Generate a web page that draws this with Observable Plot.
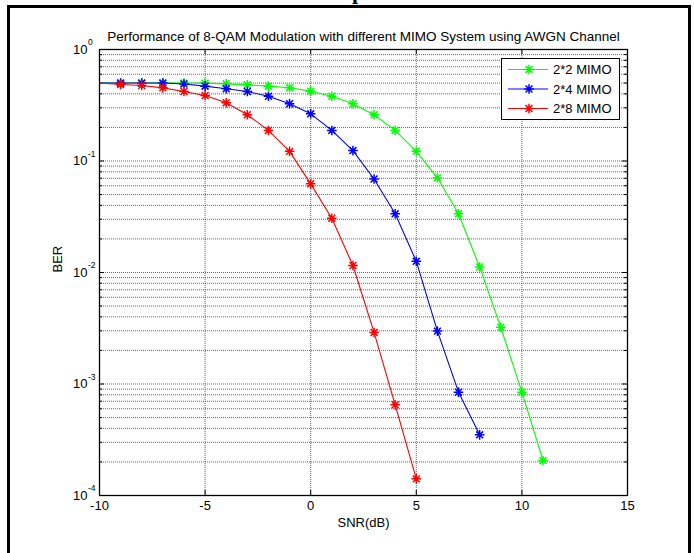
<!DOCTYPE html>
<html><head><meta charset="utf-8">
<script src="https://cdn.jsdelivr.net/npm/d3@7"></script>
<script src="https://cdn.jsdelivr.net/npm/@observablehq/plot@0.6"></script>
<style>
body{margin:0;background:#fff;}
#wrap{position:relative;width:694px;height:553px;overflow:hidden;background:#fff;font-family:"Liberation Sans",Arial,sans-serif;}
#border{position:absolute;left:7px;top:5px;width:678px;height:600px;border:3px solid #000;}
#frag{position:absolute;left:0;top:0;}
#chart{position:absolute;left:0;top:0;}
#legend{position:absolute;left:501px;top:58px;}
</style></head>
<body>
<div id="wrap">
  <div id="border"></div>
  <svg id="frag" width="694" height="8"><text x="358" y="-1" font-weight="bold" font-family="Liberation Serif" font-size="22" text-anchor="middle">p</text></svg>
  <div id="chart"></div>
  <div id="legend"></div>
</div>
<script>
// ---- data ----
const titleText = "Performance of 8-QAM Modulation with different MIMO System using AWGN Channel";
const xLabel = "SNR(dB)";
const yLabel = "BER";
const seriesNames = ["2*2 MIMO", "2*4 MIMO", "2*8 MIMO"];
const seriesColors = ["#00ff00", "#0000ff", "#ff0000"];
const snr22 = [-10,-9,-8,-7,-6,-5,-4,-3,-2,-1,0,1,2,3,4,5,6,7,8,9,10,11];
const ber22 = [0.5,0.5,0.5,0.5,0.5,0.499,0.492,0.482,0.469,0.454,0.423,0.381,0.326,0.26,0.188,0.122,0.0707,0.0336,0.0112,0.00323,0.000845,0.000206];
const snr24 = [-10,-9,-8,-7,-6,-5,-4,-3,-2,-1,0,1,2,3,4,5,6,7,8];
const ber24 = [0.5,0.5,0.5,0.5,0.49,0.469,0.444,0.42,0.381,0.326,0.265,0.188,0.124,0.069,0.0336,0.0126,0.00298,0.000845,0.00035];
const snr28 = [-10,-9,-8,-7,-6,-5,-4,-3,-2,-1,0,1,2,3,4,5];
const ber28 = [0.5,0.485,0.475,0.453,0.42,0.387,0.333,0.26,0.188,0.122,0.0624,0.0307,0.01155,0.0029,0.00065,0.000141];
const xTicks = [-10,-5,0,5,10,15];
const yMajor = [1,0.1,0.01,0.001,0.0001];
const yExponents = ["0","-1","-2","-3","-4"];

// ---- layout ----
const W = 694, H = 553;
const mL = 99, mR = 67, mT = 49, mB = 58;
const pW = W - mL - mR, pH = H - mT - mB;

const rows = [];
[[snr22, ber22], [snr24, ber24], [snr28, ber28]].forEach(([xs, ys], i) => {
  xs.forEach((x, j) => rows.push({snr: x, ber: ys[j], series: seriesNames[i]}));
});
const yMinor = [];
for (let e = -4; e < 0; e++) for (let m = 2; m <= 9; m++) yMinor.push(m * Math.pow(10, e));
const yAllGrid = yMajor.slice(1, 4).concat(yMinor);

const asterisk = {
  draw(ctx, size) {
    const r = Math.sqrt(size / Math.PI), d = r * 0.72;
    ctx.moveTo(-r, 0); ctx.lineTo(r, 0);
    ctx.moveTo(0, -r); ctx.lineTo(0, r);
    ctx.moveTo(-d, -d); ctx.lineTo(d, d);
    ctx.moveTo(-d, d); ctx.lineTo(d, -d);
  }
};

const gridStyle = {stroke: "#666", strokeDasharray: "1,1", strokeWidth: 1};
const font = "Liberation Sans, Arial, sans-serif";

const chart = Plot.plot({
  width: W, height: H,
  marginLeft: mL, marginRight: mR, marginTop: mT, marginBottom: mB,
  style: {fontFamily: font, background: "transparent", overflow: "visible"},
  x: {domain: [-10, 15], axis: null},
  y: {type: "log", domain: [1e-4, 1], axis: null},
  color: {domain: seriesNames, range: seriesColors},
  marks: [
    Plot.ruleY(yAllGrid, {y: d => d, ...gridStyle}),
    Plot.ruleX(xTicks.slice(1, -1), {x: d => d, ...gridStyle}),
    // ticks
    Plot.ruleX(xTicks, {x: d => d, insetTop: pH - 5, stroke: "#000"}),
    Plot.ruleX(xTicks, {x: d => d, insetBottom: pH - 5, stroke: "#000"}),
    Plot.ruleY(yMajor, {y: d => d, insetRight: pW - 5, stroke: "#000"}),
    Plot.ruleY(yMajor, {y: d => d, insetLeft: pW - 5, stroke: "#000"}),
    Plot.ruleY(yMinor, {y: d => d, insetRight: pW - 3, stroke: "#000"}),
    Plot.ruleY(yMinor, {y: d => d, insetLeft: pW - 3, stroke: "#000"}),
    // data
    Plot.line(rows, {x: "snr", y: "ber", z: "series", stroke: "series", strokeWidth: 1.1}),
    Plot.dot(rows.filter(d => d.snr > -10), {x: "snr", y: "ber", stroke: "series", fill: "none", symbol: asterisk, r: 4.8, strokeWidth: 1.5}),
    Plot.frame({stroke: "#000", strokeWidth: 1.3}),
    // tick labels
    Plot.text(xTicks, {x: d => d, frameAnchor: "bottom", dy: 14, text: d => String(d), fontSize: 13, fill: "#000"}),
    Plot.text(yMajor, {y: d => d, frameAnchor: "left", dx: -12, text: () => "10", textAnchor: "end", fontSize: 13, fill: "#000"}),
    Plot.text(yMajor, {y: d => d, frameAnchor: "left", dx: -11.5, dy: -7, text: (d, i) => yExponents[i], textAnchor: "start", fontSize: 8.5, fill: "#000"}),
    // labels
    Plot.text([titleText], {frameAnchor: "top", dy: -18, fontSize: 13.5, fill: "#000"}),
    Plot.text([xLabel], {frameAnchor: "bottom", dy: 31, fontSize: 13, fill: "#000"}),
    Plot.text([yLabel], {frameAnchor: "left", dx: -42, rotate: -90, fontSize: 13, fill: "#000"})
  ]
});
document.getElementById("chart").appendChild(chart);

// ---- legend ----
const lw = 118, lh = 61;
const lg = d3.select("#legend").append("svg").attr("width", lw + 2).attr("height", lh + 2)
  .style("font-family", font);
lg.append("rect").attr("x", 0.5).attr("y", 0.5).attr("width", lw).attr("height", lh)
  .attr("fill", "#fff").attr("stroke", "#000");
const rowsL = lg.selectAll("g").data(seriesNames).join("g")
  .attr("transform", (d, i) => `translate(0,${11.5 + i * 19.5})`);
rowsL.append("line").attr("x1", 7).attr("x2", 47).attr("y1", 0).attr("y2", 0)
  .attr("stroke", (d, i) => seriesColors[i]).attr("stroke-width", 1.1);
rowsL.append("path").attr("transform", "translate(28,0)")
  .attr("d", d3.symbol(asterisk, 4.8 * 4.8 * Math.PI)())
  .attr("stroke", (d, i) => seriesColors[i]).attr("stroke-width", 1.5).attr("fill", "none");
rowsL.append("text").attr("x", 52).attr("y", 0).attr("dy", "0.35em")
  .attr("font-size", 13).text(d => d);
</script>
</body></html>
